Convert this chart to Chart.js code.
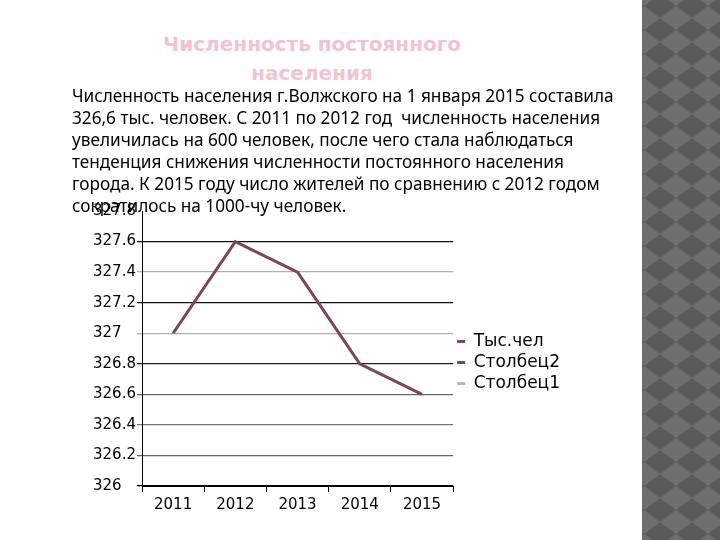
<!DOCTYPE html>
<html lang="ru">
<head>
<meta charset="UTF-8">
<title>Численность постоянного населения</title>
<script src="https://cdn.jsdelivr.net/npm/chart.js"></script>
<style>
    html, body {
        margin: 0;
        padding: 0;
        width: 720px;
        height: 540px;
        background: #fff;
        overflow: hidden;
        font-family: "Noto Sans", sans-serif;
    }
    .strip {
        position: absolute;
        left: 642px;
        top: 0;
        width: 78px;
        height: 540px;
        background-color: #6e6e6e;
        background-image: url("data:image/svg+xml,%3Csvg xmlns='http://www.w3.org/2000/svg' width='32' height='24'%3E%3Cpolygon points='16,0 32,12 16,24 0,12' fill='%235a5a5a'/%3E%3C/svg%3E");
        background-size: 32px 24px;
        background-position: 2px -6px;
    }
    .title {
        position: absolute;
        left: 112px;
        top: 30px;
        width: 400px;
        text-align: center;
        color: #f1c3d3;
        font-family: "DejaVu Sans", sans-serif;
        font-weight: bold;
        font-size: 20px;
        line-height: 29px;
    }
    .text {
        position: absolute;
        left: 72px;
        top: 85px;
        width: 580px;
        color: #000;
        font-size: 17.2px;
        line-height: 22px;
        z-index: 2;
        white-space: pre;
    }
    .chart-box {
        position: absolute;
        left: 93px;
        top: 200px;
        width: 477px;
        height: 325px;
    }
</style>
</head>
<body>
<div class="strip"></div>
<div class="title">Численность постоянного<br>населения</div>
<div class="text">Численность населения г.Волжского на 1 января 2015 составила
326,6 тыс. человек. С 2011 по 2012 год  численность населения
увеличилась на 600 человек, после чего стала наблюдаться
тенденция снижения численности постоянного населения
города. К 2015 году число жителей по сравнению с 2012 годом
сократилось на 1000-чу человек.</div>
<div class="chart-box"><canvas id="chart"></canvas></div>
<script>
    const years = ['2011', '2012', '2013', '2014', '2015'];
    const population = [327.0, 327.6, 327.4, 326.8, 326.6];
    const column2 = [null, null, null, null, null];
    const column1 = [null, null, null, null, null];
    const seriesNames = ['Тыс.чел', 'Столбец2', 'Столбец1'];

    // gridline shades as they appear in the picture
    const gridShades = {
        '327.6': '#111', '327.4': '#b0b0b0', '327.2': '#111', '327': '#b0b0b0',
        '326.8': '#222', '326.6': '#666', '326.4': '#777', '326.2': '#666'
    };

    new Chart(document.getElementById('chart'), {
        type: 'line',
        data: {
            labels: years,
            datasets: [
                { label: seriesNames[0], data: population, borderColor: '#7a4658', backgroundColor: '#7a4658', borderWidth: 3, pointRadius: 0, tension: 0 },
                { label: seriesNames[1], data: column2, borderColor: '#7a4658', backgroundColor: '#7a4658', borderWidth: 3, pointRadius: 0 },
                { label: seriesNames[2], data: column1, borderColor: '#b8b8b8', backgroundColor: '#b8b8b8', borderWidth: 3, pointRadius: 0 }
            ]
        },
        options: {
            responsive: true,
            maintainAspectRatio: false,
            animation: false,
            layout: { padding: { top: 0, right: 0 } },
            plugins: {
                title: { display: false },
                tooltip: { enabled: false },
                legend: {
                    position: 'right',
                    labels: {
                        usePointStyle: true,
                        pointStyleWidth: 8,
                        pointStyle: 'line',
                        boxHeight: 10,
                        padding: 4,
                        color: '#000',
                        font: { family: 'DejaVu Sans', size: 17 }
                    }
                }
            },
            scales: {
                x: {
                    offset: true,
                    afterFit: s => { s.height = 39; },
                    grid: {
                        offset: true,
                        drawOnChartArea: false,
                        drawTicks: true,
                        tickLength: 6,
                        color: '#000'
                    },
                    border: { color: '#000', width: 1 },
                    ticks: { color: '#000', padding: 4, font: { family: 'DejaVu Sans', size: 15 } }
                },
                y: {
                    min: 326,
                    max: 327.8,
                    afterFit: s => { s.width = 49; },
                    ticks: {
                        stepSize: 0.2,
                        color: '#000',
                        crossAlign: 'far',
                        padding: 2,
                        font: { family: 'DejaVu Sans', size: 15 },
                        callback: v => Math.round(v * 10) / 10
                    },
                    grid: {
                        tickLength: 5,
                        lineWidth: 1.3,
                        color: ctx => {
                            const v = Math.round(ctx.tick.value * 10) / 10;
                            if (v >= 327.8) return 'rgba(0,0,0,0)';
                            return gridShades[String(v)] || '#000';
                        }
                    },
                    border: { color: '#000', width: 1 }
                }
            }
        }
    });
</script>
</body>
</html>
